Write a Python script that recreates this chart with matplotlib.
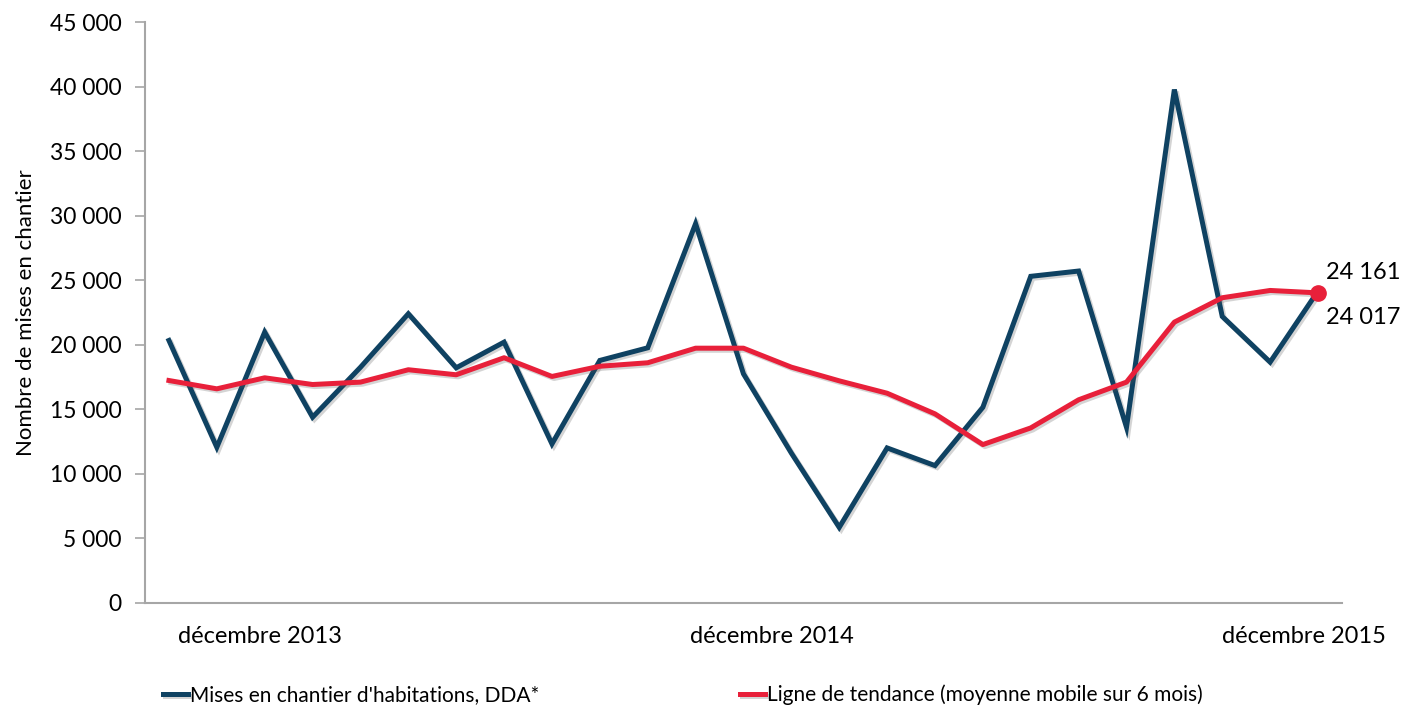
import matplotlib.pyplot as plt
import matplotlib.patheffects as pe

# Mises en chantier, décembre 2013 -> décembre 2015 (mensuel)
MONTHS = list(range(25))
STARTS = [
    20330, 12050, 20975, 14380, 18250, 22400, 18210, 20200, 12310, 18780,
    19760, 29380, 17740, 11600, 5840, 12000, 10630, 15150, 25300, 25710,
    13600, 39780, 22190, 18650, 24161,
]
TREND = [
    17225, 16580, 17435, 16915, 17100, 18060, 17670, 18990, 17540, 18330,
    18600, 19730, 19730, 18260, 17200, 16240, 14640, 12260, 13550, 15730,
    17100, 21750, 23640, 24205, 24017,
]
XTICK_POS = [1.9, 12.6, 23.7]
XTICK_LABELS = ["décembre 2013", "décembre 2014", "décembre 2015"]
YTICKS = list(range(0, 45001, 5000))

DARK = "#0f4262"
RED = "#e8203a"
GREY = "#a6a6a6"
FONT = ["Lato", "DejaVu Sans"]

plt.rcParams["font.family"] = FONT


def fmt(v: int) -> str:
    return f"{v:,}".replace(",", " ")


fig = plt.figure(figsize=(14.16, 7.15), dpi=100)
ax = fig.add_axes([0.1024, 0.157, 0.8453, 0.812])

shadow = [pe.SimpleLineShadow(offset=(1.5, -1.5), alpha=0.25, shadow_color="#555555"), pe.Normal()]
ax.plot(MONTHS, STARTS, color=DARK, linewidth=3.6, solid_joinstyle="miter",
        label="Mises en chantier d'habitations, DDA*", path_effects=shadow, zorder=3)
ax.plot(MONTHS, TREND, color=RED, linewidth=3.6,
        label="Ligne de tendance (moyenne mobile sur 6 mois)", path_effects=shadow, zorder=4)
ax.plot([MONTHS[-1]], [TREND[-1]], "o", color=RED, markersize=11, zorder=5)

ax.annotate(fmt(STARTS[-1]), (MONTHS[-1], STARTS[-1]), xytext=(6, 6), textcoords="offset points",
            fontsize=17, ha="left", va="bottom")
ax.annotate(fmt(TREND[-1]), (MONTHS[-1], TREND[-1]), xytext=(6, -10), textcoords="offset points",
            fontsize=17, ha="left", va="top")

ax.set_xlim(-0.5, 24.5)
ax.set_ylim(0, 45000)
ax.set_yticks(YTICKS)
ax.set_yticklabels([fmt(v) for v in YTICKS], fontsize=16.5)
ax.set_xticks(XTICK_POS)
ax.set_xticklabels(XTICK_LABELS, fontsize=17)
ax.tick_params(axis="x", length=0, pad=17)
ax.tick_params(axis="y", length=7, width=1.2, color=GREY, pad=10, direction="out")
ax.set_ylabel("Nombre de mises en chantier", fontsize=16, labelpad=10)

for side in ("top", "right"):
    ax.spines[side].set_visible(False)
for side in ("left", "bottom"):
    ax.spines[side].set_color(GREY)
    ax.spines[side].set_linewidth(1.5)

fig.legend(loc="lower left", bbox_to_anchor=(0.102, -0.012), ncol=2, frameon=False,
           fontsize=15, handlelength=1.2, handletextpad=0.1, columnspacing=9.6)

fig.savefig("out.png", dpi=100)
